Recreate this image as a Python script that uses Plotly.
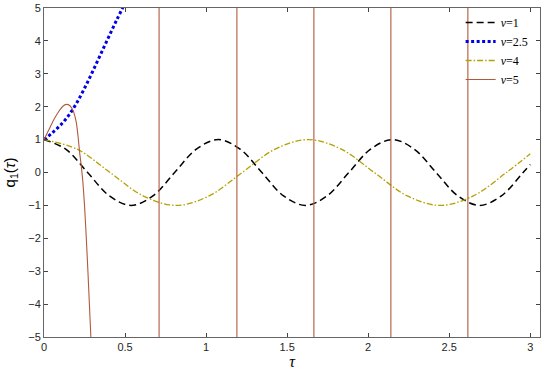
import plotly.graph_objects as go

# ---- data ----
tau_v1 = [0, 0.134, 0.269, 0.403, 0.5375, 0.672, 0.806, 0.94, 1.075, 1.21, 1.344, 1.478,
          1.6125, 1.747, 1.881, 2.015, 2.15, 2.284, 2.419, 2.553, 2.6875, 2.822, 2.956, 3.0]
q_v1 = [1, 0.71, 0.0, -0.71, -1, -0.71, 0.0, 0.71, 1, 0.71, 0.0, -0.71,
        -1, -0.71, 0.0, 0.71, 1, 0.71, 0.0, -0.71, -1, -0.71, 0.0, 0.24]

tau_v25 = [0, 0.05, 0.1, 0.15, 0.2, 0.25, 0.3, 0.35, 0.4, 0.45, 0.5]
q_v25 = [1, 1.2, 1.43, 1.72, 2.1, 2.56, 3.07, 3.6, 4.13, 4.65, 5.15]

tau_v4 = [0, 0.204, 0.4075, 0.611, 0.815, 1.019, 1.2225, 1.426, 1.63, 1.834, 2.0375,
          2.241, 2.445, 2.649, 2.8525, 3.0]
q_v4 = [1, 0.71, 0.0, -0.71, -1, -0.71, 0.0, 0.71, 1, 0.71, 0.0,
        -0.71, -1, -0.71, 0.0, 0.57]

# v=5: initial hump, then blow-ups (near-vertical branches)
tau_v5 = [0, 0.02, 0.04, 0.06, 0.08, 0.1, 0.12, 0.14, 0.16, 0.18, 0.19, 0.2, 0.21, 0.22, 0.23,
          0.24, 0.25, 0.26, 0.27, 0.28, 0.29, 0.295,
          None, 0.71, 0.71, None, 1.19, 1.19, None, 1.665, 1.665, None, 2.14, 2.14, None, 2.615, 2.615]
q_v5 = [1, 1.2, 1.4, 1.6, 1.77, 1.92, 2.03, 2.07, 2.03, 1.88, 1.72, 1.5, 1.1, 0.6, 0.2,
        -0.3, -1.0, -1.9, -2.9, -4.0, -5.1, -5.7,
        None, -5.5, 5.5, None, -5.5, 5.5, None, -5.5, 5.5, None, -5.5, 5.5, None, -5.5, 5.5]

x_ticks = [0, 0.5, 1, 1.5, 2, 2.5, 3]
y_ticks = [-5, -4, -3, -2, -1, 0, 1, 2, 3, 4, 5]

fig = go.Figure()
fig.add_trace(go.Scatter(x=tau_v1, y=q_v1, mode="lines", name="<i>v</i>=1",
                         line=dict(color="#000000", width=1.5, dash="7px,4px", shape="spline")))
fig.add_trace(go.Scatter(x=tau_v25, y=q_v25, mode="lines", name="<i>v</i>=2.5",
                         line=dict(color="#0000e6", width=3, dash="3px,2.5px", shape="spline")))
fig.add_trace(go.Scatter(x=tau_v4, y=q_v4, mode="lines", name="<i>v</i>=4",
                         line=dict(color="#b5a000", width=1.3, dash="6px,2px,1.5px,2px", shape="spline")))
fig.add_trace(go.Scatter(x=tau_v5, y=q_v5, mode="lines", name="<i>v</i>=5", connectgaps=False,
                         line=dict(color="#b05a3a", width=1.1, shape="spline", smoothing=0.5)))

axis_font = dict(family="Liberation Sans, Arial", size=11, color="#262626")
fig.update_layout(
    width=550, height=375,
    margin=dict(l=44, r=10, t=8, b=38),
    paper_bgcolor="white", plot_bgcolor="white",
    showlegend=True,
    legend=dict(x=0.84, y=1.0, xanchor="left", yanchor="top",
                bgcolor="rgba(0,0,0,0)", borderwidth=0,
                font=dict(family="Liberation Serif, Times New Roman", size=12, color="#000"),
                tracegroupgap=0, itemwidth=30),
    xaxis=dict(range=[0, 3.06], tickvals=x_ticks, ticktext=[str(v) for v in x_ticks],
               automargin=False,
               showgrid=False, zeroline=False, showline=True, linecolor="#666666", linewidth=1,
               mirror="ticks", ticks="inside", ticklen=4, tickcolor="#444444",
               tickfont=axis_font,
               title=dict(text="<i>τ</i>", font=dict(family="Liberation Serif, Times New Roman", size=16, color="#000"),
                          standoff=2)),
    yaxis=dict(range=[-5, 5], tickvals=y_ticks,
               automargin=False,
               showgrid=False, zeroline=False, showline=True, linecolor="#666666", linewidth=1,
               mirror="ticks", ticks="inside", ticklen=4, tickcolor="#444444",
               tickfont=axis_font,
               title=dict(text="q<sub>1</sub>(<i>τ</i>)", font=dict(family="Liberation Sans, Arial", size=15, color="#000"),
                          standoff=9)),
)

fig.write_html("out.html", config={"displayModeBar": False},
               post_script="document.body.style.margin='0';document.body.style.overflow='hidden';")
